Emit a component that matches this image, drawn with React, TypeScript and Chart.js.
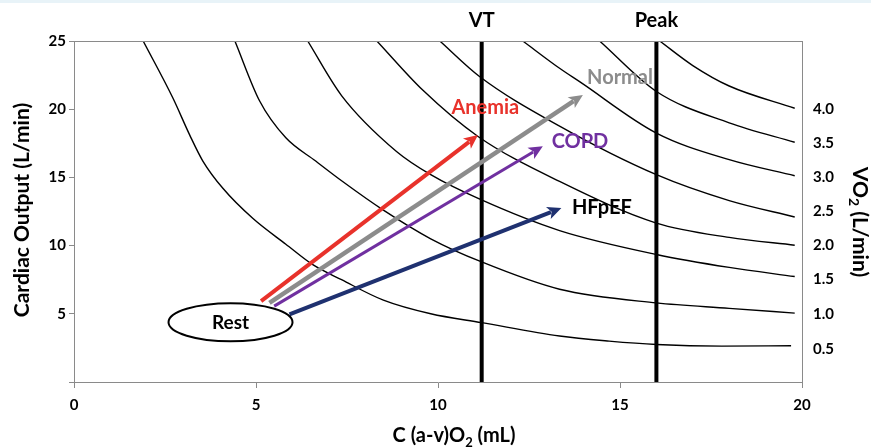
import React, { useEffect, useRef } from 'react';
import { Chart, registerables } from 'chart.js';
Chart.register(...registerables);

// ---------- data ----------
const X_MIN = 0;
const X_MAX = 20;
const Y_MIN = 0;
const Y_MAX = 25;
const X_TICK_STEP = 5;
const Y_TICK_STEP = 5;

const VO2_LABELS = ['0.5', '1.0', '1.5', '2.0', '2.5', '3.0', '3.5', '4.0'];
const VO2_LABEL_CO = [2.4, 5.0, 7.55, 10.05, 12.55, 15.0, 17.5, 20.0];

// iso-VO2 curves: [C(a-v)O2, cardiac output]
const ISO_05 = [[1.9, 25], [2.72, 20.8], [3.18, 18.1], [3.54, 16.2], [4.09, 14.2], [4.91, 12.0], [5.82, 10.1], [6.56, 8.6], [7.35, 7.5], [8.5, 6.0], [9.8, 5.0], [11.2, 4.35], [13.34, 3.37], [14.7, 3.0], [16.0, 2.75], [17.8, 2.63], [19.7, 2.66]];
const ISO_10 = [[4.42, 25], [5.1, 20.6], [5.82, 17.9], [6.64, 16.2], [7.38, 14.7], [8.5, 12.6], [9.8, 10.5], [11.2, 8.8], [13.34, 6.8], [16.0, 5.8], [18.0, 5.4], [19.8, 5.05]];
const ISO_15 = [[6.42, 25], [7.35, 21.0], [8.86, 16.9], [9.8, 15.2], [11.15, 13.4], [13.34, 11.1], [16.0, 9.35], [18.0, 8.4], [19.8, 7.73]];
const ISO_20 = [[8.32, 25], [9.58, 21.4], [11.1, 18.0], [13.34, 14.7], [16.0, 11.65], [18.0, 10.6], [19.8, 10.03]];
const ISO_25 = [[10.05, 25], [11.14, 22.4], [13.34, 18.76], [16.0, 15.2], [18.0, 13.3], [19.8, 12.1]];
const ISO_30 = [[12.33, 25], [13.34, 23.0], [13.9, 22.0], [16.0, 18.25], [18.0, 16.3], [19.8, 15.12]];
const ISO_35 = [[14.44, 25], [16.0, 21.3], [18.0, 19.0], [19.8, 17.58]];
const ISO_40 = [[16.09, 25], [17.0, 23.2], [18.0, 21.7], [19.8, 20.07]];
const ISO_CURVES = [ISO_05, ISO_10, ISO_15, ISO_20, ISO_25, ISO_30, ISO_35, ISO_40];

const MARKER_NAMES = ['VT', 'Peak'];
const MARKER_X = [11.2, 16.0];

const ARROW_NAMES = ['Anemia', 'Normal', 'COPD', 'HFpEF'];
const ARROW_START = [[5.14, 5.93], [5.37, 5.8], [5.5, 5.56], [5.92, 4.95]];
const ARROW_END = [[11.1, 18.1], [13.98, 21.05], [12.88, 17.28], [13.39, 12.76]];
const ARROW_LABEL_AT = [[11.3, 20.1], [15.0, 22.35], [13.9, 17.6], [14.5, 12.8]];

const REST_LABEL = 'Rest';
const REST_AT = [4.3, 4.38];

// ---------- styles ----------
const FONT = 'Lato, "Open Sans", "DejaVu Sans", sans-serif';
const ARROW_COLORS = ['#e8322b', '#8c8c8c', '#7030a0', '#1f3170'];
const ARROW_LABEL_COLORS = ['#e8322b', '#8c8c8c', '#7030a0', '#000000'];
const ARROW_WIDTHS = [4, 4.5, 3, 4];
const AXIS_GRAY = '#8a8a8a';

const drawPlugin = {
  id: 'custom-draw',
  afterDatasetsDraw(chart: any) {
    const { ctx, chartArea, scales } = chart;
    const sx = scales.x;
    const sy = scales.y;
    ctx.save();
    // top border of plot
    ctx.strokeStyle = AXIS_GRAY;
    ctx.lineWidth = 1;
    ctx.beginPath();
    ctx.moveTo(chartArea.left, chartArea.top + 0.5);
    ctx.lineTo(chartArea.right, chartArea.top + 0.5);
    ctx.stroke();

    // arrows
    ARROW_START.forEach((s, i) => {
      const e = ARROW_END[i];
      const x0 = sx.getPixelForValue(s[0]);
      const y0 = sy.getPixelForValue(s[1]);
      const x1 = sx.getPixelForValue(e[0]);
      const y1 = sy.getPixelForValue(e[1]);
      const dx = x1 - x0;
      const dy = y1 - y0;
      const len = Math.hypot(dx, dy);
      const ux = dx / len;
      const uy = dy / len;
      const px = -uy;
      const py = ux;
      const headLen = 14;
      const headW = 13;
      ctx.strokeStyle = ARROW_COLORS[i];
      ctx.fillStyle = ARROW_COLORS[i];
      ctx.lineWidth = ARROW_WIDTHS[i];
      ctx.lineCap = 'butt';
      ctx.beginPath();
      ctx.moveTo(x0, y0);
      ctx.lineTo(x1 - ux * headLen * 0.8, y1 - uy * headLen * 0.8);
      ctx.stroke();
      ctx.beginPath();
      ctx.moveTo(x1, y1);
      ctx.lineTo(x1 - ux * headLen + px * headW / 2, y1 - uy * headLen + py * headW / 2);
      ctx.lineTo(x1 - ux * headLen * 0.75, y1 - uy * headLen * 0.75);
      ctx.lineTo(x1 - ux * headLen - px * headW / 2, y1 - uy * headLen - py * headW / 2);
      ctx.closePath();
      ctx.fill();
    });

    // arrow labels
    ctx.textAlign = 'center';
    ctx.textBaseline = 'middle';
    ctx.font = `bold 20px ${FONT}`;
    ARROW_NAMES.forEach((name, i) => {
      ctx.fillStyle = ARROW_LABEL_COLORS[i];
      ctx.fillText(name, sx.getPixelForValue(ARROW_LABEL_AT[i][0]), sy.getPixelForValue(ARROW_LABEL_AT[i][1]));
    });

    // Rest ellipse
    const cx = sx.getPixelForValue(REST_AT[0]);
    const cy = sy.getPixelForValue(REST_AT[1]);
    ctx.fillStyle = '#ffffff';
    ctx.strokeStyle = '#000000';
    ctx.lineWidth = 2;
    ctx.beginPath();
    ctx.ellipse(cx, cy, 62, 19, 0, 0, Math.PI * 2);
    ctx.fill();
    ctx.stroke();
    ctx.fillStyle = '#000';
    ctx.font = `bold 19px ${FONT}`;
    ctx.fillText(REST_LABEL, cx, cy + 1);

    // VT / Peak labels
    ctx.font = `bold 20px ${FONT}`;
    MARKER_NAMES.forEach((n, i) => {
      ctx.fillText(n, sx.getPixelForValue(MARKER_X[i]), chartArea.top - 20);
    });

    // axis titles
    ctx.font = `bold 21px ${FONT}`;
    ctx.fillStyle = '#000';
    // left
    ctx.save();
    ctx.translate(22, 210);
    ctx.rotate(-Math.PI / 2);
    ctx.fillText('Cardiac Output (L/min)', 0, 0);
    ctx.restore();

    const drawSub = (parts: [string, boolean][], centerX: number, centerY: number, size: number) => {
      const big = `bold ${size}px ${FONT}`;
      const small = `bold ${Math.round(size * 0.65)}px ${FONT}`;
      let total = 0;
      parts.forEach(([t, sub]) => {
        ctx.font = sub ? small : big;
        total += ctx.measureText(t).width;
      });
      let x = centerX - total / 2;
      ctx.textAlign = 'left';
      parts.forEach(([t, sub]) => {
        ctx.font = sub ? small : big;
        ctx.fillText(t, x, centerY + (sub ? size * 0.33 : 0));
        x += ctx.measureText(t).width;
      });
      ctx.textAlign = 'center';
    };
    // bottom
    drawSub([['C (a-v)O', false], ['2', true], [' (mL)', false]], 454, 436, 20);
    // right
    ctx.save();
    ctx.translate(860, 222);
    ctx.rotate(Math.PI / 2);
    drawSub([['VO', false], ['2', true], [' (L/min)', false]], 0, 0, 21);
    ctx.restore();

    ctx.restore();
  },
};

export default function App() {
  const ref = useRef<HTMLCanvasElement | null>(null);
  useEffect(() => {
    if (!ref.current) return;
    const datasets: any[] = ISO_CURVES.map((c) => ({
      data: c.map(([x, y]) => ({ x, y })),
      showLine: true,
      borderColor: '#000',
      borderWidth: 1.4,
      pointRadius: 0,
      cubicInterpolationMode: 'monotone',
      fill: false,
    }));
    MARKER_X.forEach((mx) => {
      datasets.push({
        data: [{ x: mx, y: Y_MIN }, { x: mx, y: Y_MAX }],
        showLine: true,
        borderColor: '#000',
        borderWidth: 4,
        pointRadius: 0,
        fill: false,
      });
    });
    const tickFont = { family: FONT, size: 15, weight: 'bold' as const };
    const chart = new Chart(ref.current, {
      type: 'scatter',
      data: { datasets },
      plugins: [drawPlugin],
      options: {
        animation: false,
        responsive: true,
        maintainAspectRatio: false,
        layout: { padding: { top: 41, left: 0, right: 0, bottom: 0 } },
        plugins: { legend: { display: false }, tooltip: { enabled: false } },
        scales: {
          x: {
            type: 'linear',
            min: X_MIN,
            max: X_MAX,
            ticks: { stepSize: X_TICK_STEP, color: '#000', font: tickFont, padding: 8 },
            grid: { drawOnChartArea: false, tickLength: 6, color: AXIS_GRAY },
            border: { color: AXIS_GRAY, width: 1 },
            afterFit: (s: any) => { s.height = 66; },
          },
          y: {
            type: 'linear',
            position: 'left',
            min: Y_MIN,
            max: Y_MAX,
            ticks: {
              stepSize: Y_TICK_STEP,
              color: '#000',
              font: tickFont,
              padding: 3,
              callback: (v: any) => (v === 0 ? '' : String(v)),
            },
            grid: { drawOnChartArea: false, tickLength: 5, color: AXIS_GRAY },
            border: { color: AXIS_GRAY, width: 1 },
            afterFit: (s: any) => { s.width = 74; },
          },
          y2: {
            type: 'linear',
            position: 'right',
            min: Y_MIN,
            max: Y_MAX,
            afterBuildTicks: (s: any) => { s.ticks = VO2_LABEL_CO.map((v) => ({ value: v })); },
            ticks: {
              color: '#000',
              font: tickFont,
              padding: 11,
              callback: (_v: any, i: number) => VO2_LABELS[i],
            },
            grid: { drawOnChartArea: false, drawTicks: false, color: AXIS_GRAY },
            border: { color: AXIS_GRAY, width: 1 },
            afterFit: (s: any) => { s.width = 69; },
          },
        },
      },
    });
    return () => chart.destroy();
  }, []);
  return (
    <div style={{ position: 'fixed', left: 0, top: 0, width: 871, height: 448, background: '#fff' }}>
      <div style={{ position: 'absolute', left: 0, top: 0, width: 871, height: 3, background: '#e8f3f8' }} />
      <canvas ref={ref} />
    </div>
  );
}
